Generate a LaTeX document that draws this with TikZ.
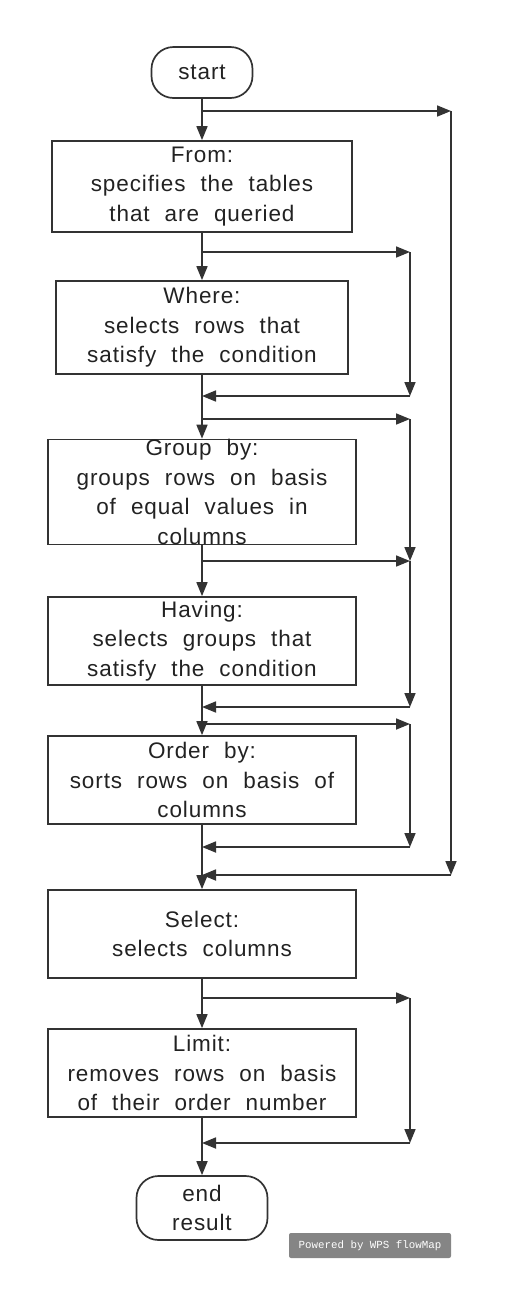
\documentclass[tikz,border=0pt]{standalone}
\usepackage{fontspec}
\setmainfont{Liberation Sans}[LetterSpace=4,WordSpace=2.1]
\newfontfamily\wpsfont{Liberation Mono}
\usetikzlibrary{arrows.meta}
\definecolor{linegray}{HTML}{333333}
\definecolor{textgray}{HTML}{222222}
\definecolor{markgray}{HTML}{858585}

\begin{document}
\begin{tikzpicture}[x=1pt,y=-1pt,
stepnode/.style={draw=linegray, line width=1.7pt, align=center, inner xsep=2pt, inner ysep=0pt,
  text=textgray, font=\fontsize{22.5}{29.5}\selectfont},
endnode/.style={stepnode, rounded corners=22pt},
flow/.style={draw=linegray, line width=1.7pt, -{Triangle[length=14pt,width=11pt]}}]
    \useasboundingbox (0,0) rectangle (512,1302);
    \node [endnode, minimum width=101pt, minimum height=51pt] (start) at (202,72.5) {start};
    \node [stepnode, minimum width=300pt, minimum height=91pt] (from) at (202,186.5)
      {From:\\specifies the tables\\that are queried};
    \node [stepnode, minimum width=292pt, minimum height=93pt] (where) at (202,327.5)
      {Where:\\selects rows that\\satisfy the condition};
    \node [stepnode, minimum width=308pt, minimum height=104pt] (group) at (202,492)
      {Group by:\\groups rows on basis\\of equal values in\\columns};
    \node [stepnode, minimum width=308pt, minimum height=88pt] (having) at (202,641)
      {Having:\\selects groups that\\satisfy the condition};
    \node [stepnode, minimum width=308pt, minimum height=88pt] (order) at (202,780)
      {Order by:\\sorts rows on basis of\\columns};
    \node [stepnode, minimum width=308pt, minimum height=88pt] (select) at (202,934)
      {Select:\\selects columns};
    \node [stepnode, minimum width=308pt, minimum height=88pt] (limit) at (202,1073)
      {Limit:\\removes rows on basis\\of their order number};
    \node [endnode, minimum width=131pt, minimum height=64pt] (end) at (202,1208)
      {end\\result};
    \node [fill=markgray, rounded corners=2pt, minimum width=162pt, minimum height=25pt,
      text=white, font=\wpsfont\fontsize{10.8}{12}\selectfont] (mark) at (370,1245.5)
      {Powered by WPS flowMap};

    \foreach \u/\v in {start/from, from/where, where/group, group/having,
      having/order, order/select, select/limit, limit/end}
      \draw [flow] (\u) -- (\v);

    \coordinate (fromskip) at (202,111);
    \coordinate (fromskipr) at (451,111);
    \coordinate (fromskipd) at (451,875);
    \coordinate (fromskipe) at (202,875);
    \coordinate (whereskip) at (202,252);
    \coordinate (whereskipr) at (410,252);
    \coordinate (whereskipe) at (202,396);
    \coordinate (whereskipd) at (410,396);
    \coordinate (groupskip) at (202,419);
    \coordinate (groupskipr) at (410,419);
    \coordinate (havingskip) at (202,561);
    \coordinate (havingskipr) at (410,561);
    \coordinate (havingskipd) at (410,707);
    \coordinate (havingskipe) at (202,707);
    \coordinate (orderskip) at (202,724);
    \coordinate (orderskipr) at (410,724);
    \coordinate (orderskipd) at (410,847);
    \coordinate (orderskipe) at (202,847);
    \coordinate (limitskip) at (202,998);
    \coordinate (limitskipr) at (410,998);
    \coordinate (limitskipd) at (410,1143);
    \coordinate (limitskipe) at (202,1143);

    \draw [flow] (fromskip) -- (fromskipr);
    \draw [flow] (fromskipr) -- (fromskipd);
    \draw [flow] (fromskipd) -- (fromskipe);
    \draw [flow] (whereskip) -- (whereskipr);
    \draw [flow] (whereskipr) -- (whereskipd);
    \draw [flow] (whereskipd) -- (whereskipe);
    \draw [flow] (groupskip) -- (groupskipr);
    \draw [flow] (groupskipr) -- (havingskipr);
    \draw [flow] (havingskip) -- (havingskipr);
    \draw [flow] (havingskipr) -- (havingskipd);
    \draw [flow] (havingskipd) -- (havingskipe);
    \draw [flow] (orderskip) -- (orderskipr);
    \draw [flow] (orderskipr) -- (orderskipd);
    \draw [flow] (orderskipd) -- (orderskipe);
    \draw [flow] (limitskip) -- (limitskipr);
    \draw [flow] (limitskipr) -- (limitskipd);
    \draw [flow] (limitskipd) -- (limitskipe);
\end{tikzpicture}
\end{document}
